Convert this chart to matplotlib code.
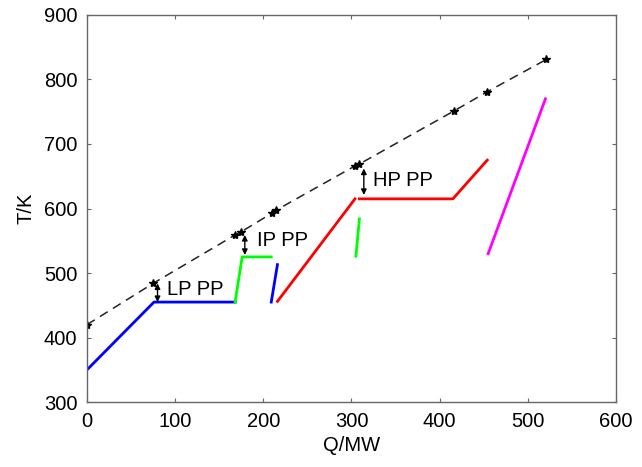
import matplotlib.pyplot as plt

plt.rcParams['font.family'] = ['Liberation Sans', 'DejaVu Sans']

# hot composite curve (dashed, star markers)
hot_q = [0, 75, 168, 175, 210, 214, 304, 309, 416, 454, 521]
hot_t = [420, 484, 559, 564, 593, 597, 666, 669, 751, 781, 831]

# cold side segments
blue1_q = [0, 76, 168]
blue1_t = [350, 455, 455]
green1_q = [168, 176, 209]
green1_t = [455, 525, 525]
blue2_q = [209, 216]
blue2_t = [455, 513]
red1_q = [216, 304]
red1_t = [456, 615]
red2_q = [309, 415, 454]
red2_t = [615, 615, 675]
green2_q = [305, 309]
green2_t = [526, 584]
magenta_q = [455, 520]
magenta_t = [530, 770]

# pinch arrows: (q, T low, T high, label, label q, label T)
pinches = [
    (80, 455, 484, "LP PP", 91, 475),
    (179, 528, 559, "IP PP", 193, 551),
    (314, 621, 662, "HP PP", 324, 644),
]

fig = plt.figure(figsize=(6.42, 4.67), dpi=100)
ax = fig.add_axes([0.1355, 0.139, 0.824, 0.829])

ax.plot(hot_q, hot_t, color="#222222", ls="--", lw=1.1, marker="*", ms=6,
        mfc="k", mec="k", dashes=(6, 4))
lw = 2.0
ax.plot(blue1_q, blue1_t, color="#0000ff", lw=lw)
ax.plot(green1_q, green1_t, color="#00ff00", lw=lw)
ax.plot(blue2_q, blue2_t, color="#0000ff", lw=lw)
ax.plot(red1_q, red1_t, color="#ff0000", lw=lw)
ax.plot(red2_q, red2_t, color="#ff0000", lw=lw)
ax.plot(green2_q, green2_t, color="#00ff00", lw=lw)
ax.plot(magenta_q, magenta_t, color="#ff00ff", lw=lw)

for q, lo, hi, lab, lq, lt in pinches:
    ax.annotate("", xy=(q, lo), xytext=(q, hi),
                arrowprops=dict(arrowstyle="<|-|>", color="k", lw=1.0,
                                mutation_scale=8, shrinkA=0, shrinkB=0))
    ax.text(lq, lt, lab, fontsize=14.5, va="center", ha="left")

ax.set_xlim(0, 600); ax.set_ylim(300, 900)
ax.set_xticks(range(0, 601, 100)); ax.set_yticks(range(300, 901, 100))
ax.tick_params(direction="in", top=True, right=True, labelsize=14.5, length=3,
               color="#666666", pad=7)
for s in ax.spines.values():
    s.set_color("#666666"); s.set_linewidth(1.0)
ax.set_xlabel("Q/MW", fontsize=14.5, labelpad=4)
ax.set_ylabel("T/K", fontsize=14.5, labelpad=6)

plt.savefig("out.png", dpi=100)
